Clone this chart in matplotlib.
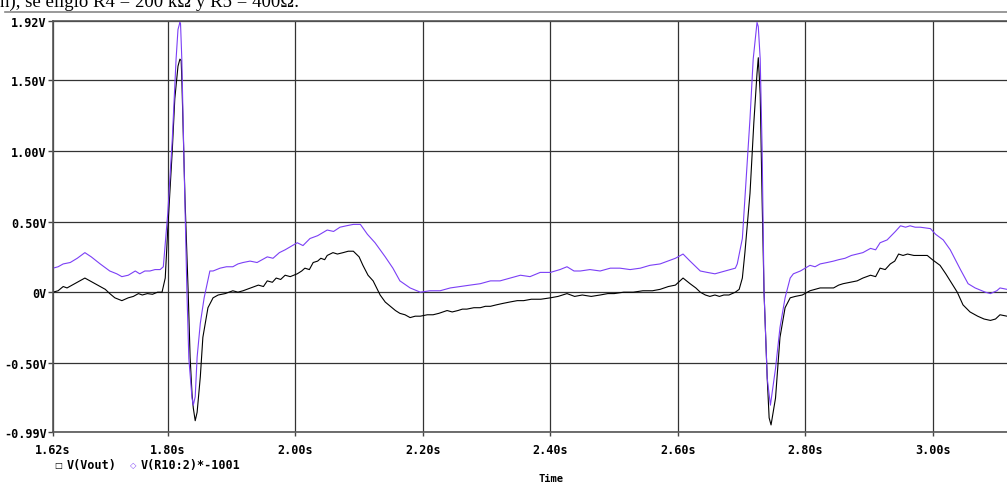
import matplotlib
matplotlib.use('Agg')
import matplotlib.pyplot as plt

# Trace data
t_vout = [1.620, 1.628, 1.636, 1.642, 1.650, 1.658, 1.670, 1.678, 1.686, 1.694,
          1.702, 1.709, 1.717, 1.728, 1.738, 1.746, 1.754, 1.760, 1.768, 1.776,
          1.784, 1.791, 1.796, 1.800, 1.807, 1.811, 1.816, 1.819, 1.821, 1.822,
          1.827, 1.832, 1.835, 1.838, 1.840, 1.843, 1.846, 1.851, 1.855, 1.863,
          1.871, 1.879, 1.890, 1.902, 1.910, 1.918, 1.930, 1.942, 1.950, 1.956,
          1.964, 1.970, 1.977, 1.984, 1.992, 2.003, 2.010, 2.015, 2.022, 2.028,
          2.035, 2.040, 2.046, 2.050, 2.059, 2.066, 2.075, 2.083, 2.091, 2.100,
          2.106, 2.114, 2.122, 2.133, 2.141, 2.149, 2.157, 2.164, 2.172, 2.180,
          2.188, 2.196, 2.207, 2.216, 2.225, 2.238, 2.246, 2.255, 2.262, 2.269,
          2.280, 2.290, 2.298, 2.306, 2.315, 2.325, 2.336, 2.348, 2.358, 2.370,
          2.385, 2.400, 2.412, 2.426, 2.438, 2.450, 2.464, 2.478, 2.490, 2.500,
          2.515, 2.530, 2.545, 2.560, 2.572, 2.585, 2.596, 2.608, 2.619, 2.628,
          2.635, 2.643, 2.650, 2.658, 2.665, 2.672, 2.680, 2.690, 2.696, 2.701,
          2.705, 2.713, 2.719, 2.724, 2.726, 2.729, 2.732, 2.735, 2.740, 2.743,
          2.746, 2.753, 2.760, 2.768, 2.776, 2.784, 2.795, 2.807, 2.815, 2.823,
          2.834, 2.844, 2.852, 2.859, 2.870, 2.881, 2.890, 2.902, 2.910, 2.917,
          2.925, 2.933, 2.940, 2.946, 2.953, 2.960, 2.970, 2.980, 2.991, 2.999,
          3.005, 3.011, 3.020, 3.027, 3.038, 3.047, 3.058, 3.070, 3.080, 3.090,
          3.098, 3.105, 3.116]
v_vout = [0.00, 0.01, 0.04, 0.03, 0.05, 0.07, 0.10, 0.08, 0.06, 0.04,
          0.02, -0.01, -0.04, -0.06, -0.04, -0.03, -0.01, -0.02, -0.01, -0.015,
          0.00, 0.00, 0.10, 0.45, 1.00, 1.37, 1.60, 1.65, 1.64, 1.51,
          0.66, 0.00, -0.46, -0.72, -0.82, -0.91, -0.85, -0.60, -0.32, -0.11,
          -0.04, -0.02, -0.01, 0.01, 0.00, 0.01, 0.03, 0.05, 0.04, 0.08,
          0.07, 0.10, 0.09, 0.12, 0.11, 0.13, 0.15, 0.17, 0.16, 0.21,
          0.22, 0.24, 0.23, 0.26, 0.28, 0.27, 0.28, 0.29, 0.29, 0.25,
          0.19, 0.12, 0.08, -0.02, -0.07, -0.10, -0.13, -0.15, -0.16, -0.18,
          -0.17, -0.17, -0.16, -0.16, -0.15, -0.13, -0.14, -0.13, -0.12, -0.12,
          -0.11, -0.11, -0.10, -0.10, -0.09, -0.08, -0.07, -0.06, -0.06, -0.05,
          -0.05, -0.04, -0.03, -0.01, -0.03, -0.02, -0.03, -0.02, -0.01, -0.01,
          0.00, 0.00, 0.01, 0.01, 0.02, 0.04, 0.05, 0.10, 0.06, 0.03,
          0.00, -0.02, -0.03, -0.02, -0.03, -0.02, -0.02, 0.00, 0.02, 0.10,
          0.28, 0.70, 1.20, 1.55, 1.66, 1.40, 0.65, 0.00, -0.61, -0.89,
          -0.94, -0.75, -0.32, -0.11, -0.04, -0.03, -0.02, 0.01, 0.02, 0.03,
          0.03, 0.03, 0.05, 0.06, 0.07, 0.08, 0.10, 0.12, 0.11, 0.17,
          0.16, 0.20, 0.22, 0.27, 0.26, 0.27, 0.26, 0.26, 0.26, 0.23,
          0.21, 0.19, 0.13, 0.08, 0.00, -0.09, -0.14, -0.17, -0.19, -0.20,
          -0.19, -0.16, -0.17]

t_r10 = [1.620, 1.628, 1.636, 1.647, 1.658, 1.670, 1.680, 1.694, 1.709, 1.720,
         1.728, 1.738, 1.749, 1.756, 1.764, 1.772, 1.780, 1.788, 1.793, 1.796,
         1.800, 1.807, 1.813, 1.816, 1.819, 1.820, 1.822, 1.825, 1.830, 1.833,
         1.838, 1.840, 1.843, 1.846, 1.851, 1.857, 1.866, 1.871, 1.882, 1.892,
         1.902, 1.910, 1.918, 1.929, 1.940, 1.956, 1.965, 1.975, 1.984, 2.003,
         2.012, 2.023, 2.035, 2.050, 2.060, 2.070, 2.080, 2.091, 2.102, 2.113,
         2.125, 2.141, 2.153, 2.164, 2.180, 2.196, 2.211, 2.227, 2.243, 2.258,
         2.274, 2.290, 2.306, 2.321, 2.337, 2.353, 2.368, 2.384, 2.400, 2.415,
         2.426, 2.437, 2.447, 2.462, 2.478, 2.494, 2.509, 2.525, 2.541, 2.556,
         2.572, 2.584, 2.596, 2.608, 2.619, 2.635, 2.646, 2.658, 2.674, 2.690,
         2.693, 2.701, 2.705, 2.713, 2.718, 2.723, 2.724, 2.726, 2.729, 2.732,
         2.735, 2.740, 2.745, 2.753, 2.760, 2.768, 2.776, 2.781, 2.792, 2.807,
         2.815, 2.823, 2.834, 2.844, 2.852, 2.862, 2.872, 2.881, 2.890, 2.902,
         2.910, 2.917, 2.928, 2.941, 2.949, 2.957, 2.964, 2.972, 2.980, 2.996,
         3.004, 3.016, 3.027, 3.035, 3.043, 3.055, 3.066, 3.082, 3.090, 3.100,
         3.105, 3.116]
v_r10 = [0.17, 0.18, 0.20, 0.21, 0.24, 0.28, 0.25, 0.20, 0.15, 0.13,
         0.11, 0.12, 0.15, 0.13, 0.15, 0.15, 0.16, 0.16, 0.18, 0.34,
         0.56, 1.08, 1.65, 1.86, 1.91, 1.90, 1.65, 1.01, 0.00, -0.47,
         -0.75, -0.80, -0.74, -0.46, -0.22, -0.04, 0.15, 0.15, 0.17, 0.18,
         0.18, 0.20, 0.21, 0.22, 0.21, 0.25, 0.24, 0.28, 0.30, 0.35,
         0.33, 0.38, 0.40, 0.44, 0.43, 0.46, 0.47, 0.48, 0.48, 0.41,
         0.35, 0.25, 0.17, 0.08, 0.03, 0.00, 0.01, 0.01, 0.03, 0.04,
         0.05, 0.06, 0.08, 0.08, 0.10, 0.12, 0.11, 0.14, 0.14, 0.16,
         0.18, 0.15, 0.15, 0.16, 0.15, 0.17, 0.17, 0.16, 0.17, 0.19,
         0.20, 0.22, 0.24, 0.27, 0.22, 0.15, 0.14, 0.13, 0.15, 0.17,
         0.20, 0.38, 0.66, 1.23, 1.65, 1.87, 1.91, 1.88, 1.65, 1.01,
         0.00, -0.61, -0.80, -0.54, -0.25, -0.04, 0.10, 0.13, 0.15, 0.19,
         0.18, 0.20, 0.21, 0.22, 0.23, 0.24, 0.26, 0.27, 0.28, 0.31,
         0.30, 0.35, 0.37, 0.43, 0.47, 0.46, 0.47, 0.46, 0.46, 0.45,
         0.41, 0.37, 0.30, 0.23, 0.16, 0.06, 0.03, 0.00, -0.01, 0.01,
         0.03, 0.02]

x_ticks = [1.62, 1.80, 2.00, 2.20, 2.40, 2.60, 2.80, 3.00]
x_labels = ['1.62s', '1.80s', '2.00s', '2.20s', '2.40s', '2.60s', '2.80s', '3.00s']
y_ticks = [-0.99, -0.50, 0.0, 0.50, 1.00, 1.50, 1.92]
y_labels = ['-0.99V', '-0.50V', '0V', '0.50V', '1.00V', '1.50V', '1.92V']

purple = '#7b3ff6'
mono = {'family': 'DejaVu Sans Mono', 'weight': 'bold', 'size': 8.5}

W, H = 1007, 485
fig = plt.figure(figsize=(W / 100, H / 100), dpi=100)
fig.patch.set_facecolor('white')

# axes: left edge at x=53px, bottom at y=433px, top at y=22px, runs off the right side
ax = fig.add_axes([53 / W, 1 - 433 / H, 1 - 53 / W, (433 - 22) / H])
ax.plot(t_vout, v_vout, color='black', lw=0.8)
ax.plot(t_r10, v_r10, color=purple, lw=0.8)

ax.set_xlim(1.62, 3.116)
ax.set_ylim(-0.99, 1.92)
ax.set_xticks(x_ticks)
ax.set_xticklabels(x_labels, fontdict=mono)
ax.set_yticks(y_ticks)
ax.set_yticklabels(y_labels, fontdict=mono)
ax.tick_params(axis='x', direction='out', length=3, width=1, color='#444444', pad=5)
ax.tick_params(axis='y', direction='out', length=3.5, width=1, color='#444444', pad=1)
ax.grid(True, color='#333333', lw=0.9)
ax.set_axisbelow(True)

for side in ['left', 'bottom', 'top']:
    ax.spines[side].set_color('#555555')
    ax.spines[side].set_linewidth(1.2)
ax.spines['right'].set_visible(False)

# thin gray rule above the plot window
fig.add_artist(plt.Line2D([5 / W, 1.0], [1 - 13 / H, 1 - 13 / H], color='#888888', lw=1.2))

# clipped document text from the page above the screenshot
fig.text(0 / W, 1 - 7 / H, 'n), se eligió R4 = 200 kΩ y R5 = 400Ω.', fontsize=13.5,
         family='Liberation Serif', va='baseline', ha='left')

# legend line
ly = 1 - 466 / H
fig.text(58 / W, ly, '□', color='black', fontsize=6, family='DejaVu Sans', va='center', ha='center')
fig.text(67 / W, ly, 'V(Vout)', va='center', ha='left', **mono)
fig.text(133 / W, ly, '◇', color=purple, fontsize=6, family='DejaVu Sans', va='center', ha='center')
fig.text(141 / W, ly, 'V(R10:2)*-1001', va='center', ha='left', **mono)

fig.text(551 / W, 1 - 479 / H, 'Time', va='center', ha='center', family='DejaVu Sans Mono',
         weight='bold', size=7.5)

fig.savefig('out.png', dpi=100)
